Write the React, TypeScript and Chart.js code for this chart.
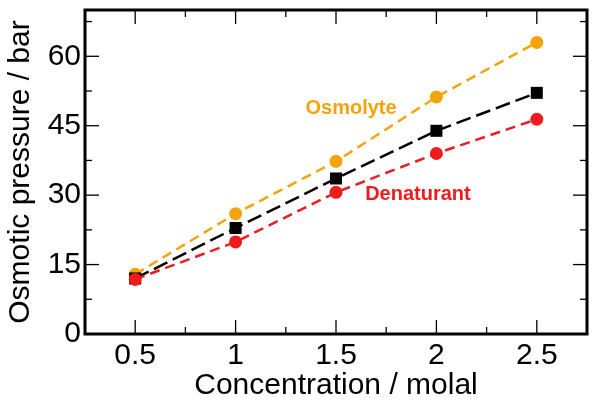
import React, { useEffect, useRef } from "react";
import { Chart, registerables } from "chart.js";

Chart.register(...registerables);

const concentrations = [0.5, 1, 1.5, 2, 2.5];
const osmolyte = [12.9, 26.0, 37.3, 51.2, 63.0];
const mixture = [12.0, 22.9, 33.6, 43.9, 52.1];
const denaturant = [11.8, 19.9, 30.6, 39.0, 46.4];

const xTicks = [0.5, 1, 1.5, 2, 2.5];
const xMinorTicks = [0.75, 1.25, 1.75, 2.25];
const yTicks = [0, 15, 30, 45, 60];
const yMinorTicks = [7.5, 22.5, 37.5, 52.5, 67.5];

const xTitle = "Concentration / molal";
const yTitle = "Osmotic pressure / bar";
const osmolyteLabel = "Osmolyte";
const denaturantLabel = "Denaturant";

const ORANGE = "#f5a30a";
const RED = "#ee1c1c";
const FONT = "'Liberation Sans', Arial, Helvetica, sans-serif";

const framePlugin = {
  id: "frameTicks",
  afterDatasetsDraw(chart: any) {
    const { ctx, chartArea: a, scales } = chart;
    const x = scales.x;
    const y = scales.y;
    const line = (x1: number, y1: number, x2: number, y2: number) => {
      ctx.beginPath();
      ctx.moveTo(x1, y1);
      ctx.lineTo(x2, y2);
      ctx.stroke();
    };
    ctx.save();
    ctx.strokeStyle = "#000";
    ctx.lineWidth = 1.3;
    const major = 14;
    const minor = 7;
    xTicks.forEach((v) => {
      const p = x.getPixelForValue(v);
      line(p, a.bottom, p, a.bottom - major);
      line(p, a.top, p, a.top + major);
    });
    xMinorTicks.forEach((v) => {
      const p = x.getPixelForValue(v);
      line(p, a.bottom, p, a.bottom - minor);
      line(p, a.top, p, a.top + minor);
    });
    yTicks.forEach((v) => {
      const p = y.getPixelForValue(v);
      line(a.left, p, a.left + major, p);
      line(a.right, p, a.right - major, p);
    });
    yMinorTicks.forEach((v) => {
      const p = y.getPixelForValue(v);
      line(a.left, p, a.left + minor, p);
      line(a.right, p, a.right - minor, p);
    });
    ctx.lineWidth = 3;
    ctx.strokeRect(a.left, a.top, a.right - a.left, a.bottom - a.top);

    ctx.font = `bold 20px ${FONT}`;
    ctx.textAlign = "center";
    ctx.textBaseline = "middle";
    ctx.fillStyle = ORANGE;
    ctx.fillText(osmolyteLabel, x.getPixelForValue(1.575), y.getPixelForValue(48.8));
    ctx.fillStyle = RED;
    ctx.fillText(denaturantLabel, x.getPixelForValue(1.908), y.getPixelForValue(30.2));
    ctx.restore();
  },
};

export default function App() {
  const ref = useRef<HTMLCanvasElement | null>(null);
  useEffect(() => {
    if (!ref.current) return;
    const mk = (vals: number[]) => concentrations.map((c, i) => ({ x: c, y: vals[i] }));
    const chart = new Chart(ref.current, {
      type: "line",
      data: {
        datasets: [
          {
            label: "Denaturant",
            data: mk(denaturant),
            borderColor: RED,
            backgroundColor: RED,
            borderWidth: 2.5,
            borderDash: [10, 6],
            pointStyle: "circle",
            pointRadius: 6.5,
            pointBorderWidth: 0,
            order: 0,
          },
          {
            label: "Mixture",
            data: mk(mixture),
            borderColor: "#000",
            backgroundColor: "#000",
            borderWidth: 2.5,
            borderDash: [15, 6],
            pointStyle: "rect",
            pointRadius: 8.5,
            pointBorderWidth: 0,
            order: 1,
          },
          {
            label: "Osmolyte",
            data: mk(osmolyte),
            borderColor: ORANGE,
            backgroundColor: ORANGE,
            borderWidth: 2.5,
            borderDash: [10, 6],
            pointStyle: "circle",
            pointRadius: 6.5,
            pointBorderWidth: 0,
            order: 2,
          },
        ],
      },
      options: {
        animation: false,
        responsive: false,
        layout: { padding: { top: 10, right: 14, left: 0, bottom: 0 } },
        plugins: { legend: { display: false }, tooltip: { enabled: false } },
        scales: {
          x: {
            type: "linear",
            min: 0.25,
            max: 2.75,
            grid: { display: false, drawTicks: false },
            border: { display: false },
            afterBuildTicks: (s: any) => {
              s.ticks = xTicks.map((v) => ({ value: v }));
            },
            afterFit: (s: any) => {
              s.height = 70;
              s.paddingLeft = 0;
              s.paddingRight = 0;
            },
            ticks: {
              color: "#000",
              padding: 4,
              font: { family: FONT, size: 30 },
              callback: (v: any) => String(v),
            },
            title: {
              display: true,
              text: xTitle,
              color: "#000",
              font: { family: FONT, size: 30 },
              padding: { top: 0, bottom: 0 },
            },
          },
          y: {
            type: "linear",
            min: 0,
            max: 70,
            grid: { display: false, drawTicks: false },
            border: { display: false },
            afterBuildTicks: (s: any) => {
              s.ticks = yTicks.map((v) => ({ value: v }));
            },
            afterFit: (s: any) => {
              s.width = 85;
              s.paddingTop = 0;
              s.paddingBottom = 0;
            },
            ticks: {
              color: "#000",
              padding: 4,
              font: { family: FONT, size: 30 },
              callback: (v: any) => String(v),
            },
            title: {
              display: true,
              text: yTitle,
              color: "#000",
              font: { family: FONT, size: 30 },
              padding: { top: 3, bottom: 0 },
            },
          },
        },
      },
      plugins: [framePlugin],
    });
    return () => chart.destroy();
  }, []);
  return (
    <div style={{ position: "fixed", left: 0, top: 0, width: 601, height: 404, background: "#fff" }}>
      <canvas ref={ref} width={601} height={404} />
    </div>
  );
}
